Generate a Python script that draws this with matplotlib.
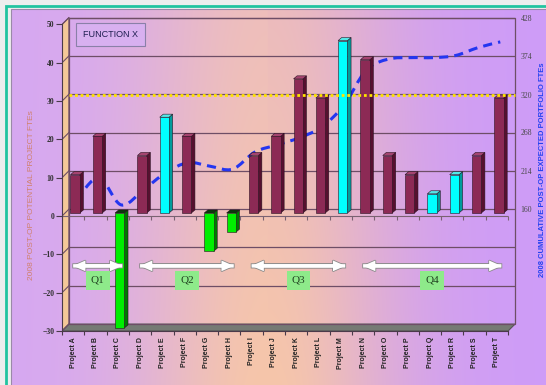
import numpy as np
import matplotlib
matplotlib.use('Agg')
import matplotlib.pyplot as plt
from matplotlib.patches import Rectangle, Polygon, PathPatch, FancyArrow
from matplotlib.path import Path
from matplotlib.colors import to_rgb

projects = ['Project A', 'Project B', 'Project C', 'Project D', 'Project E', 'Project F', 'Project G',
            'Project H', 'Project I', 'Project J', 'Project K', 'Project L', 'Project M', 'Project N',
            'Project O', 'Project P', 'Project Q', 'Project R', 'Project S', 'Project T']
fte = [10, 20, -30, 15, 25, 20, -10, -5, 15, 20, 35, 30, 45, 40, 15, 10, 5, 10, 15, 30]
kind = ['m', 'm', 'g', 'm', 'c', 'm', 'g', 'g', 'm', 'm', 'm', 'm', 'c', 'm', 'm', 'm', 'c', 'c', 'm', 'm']
cumulative = [173, 204, 166, 187, 211, 225, 220, 216, 240, 250, 260, 275, 306, 355, 370, 372, 372, 375, 386, 394]
target = 320
right_ticks = [160, 214, 268, 320, 374, 428]
quarters = ['Q1', 'Q2', 'Q3', 'Q4']
quarter_span = [(0, 2), (3, 7), (8, 12), (13, 19)]

# colours: front, side, top
palette = {'m': ('#8C2A55', '#56102F', '#A54470'),
           'c': ('#00FFFF', '#009C9C', '#55E8E8'),
           'g': ('#00EE00', '#007A00', '#0A3A0A')}

W, H = 546, 385
DX, DY = 0.31, 1.8      # depth of the 3d walls
BDX, BDY = 0.16, 0.8    # depth of a bar
SX, SY = 0.1, 0.8       # bars sit half way back

def to_right(v):
    return 160 + (v - DY) * 5.36

def to_left(r):
    return DY + (r - 160) / 5.36

fig = plt.figure(figsize=(W / 100, H / 100), dpi=100, facecolor='#EEEEEE')

# gradient background
bg = fig.add_axes([11 / W, 0, 1 - 11 / W, 1 - 9 / H])
purple_l = np.array(to_rgb('#D6A8F2'))
peach = np.array(to_rgb('#F6C6AA'))
purple_r = np.array(to_rgb('#CE9CF8'))
xs = np.linspace(0, 1, 300)
ys = np.linspace(0, 1, 200)
X, Y = np.meshgrid(xs, ys)
wx = np.exp(-((X - 0.48) / 0.24) ** 2) * (0.75 + 0.25 * Y)
side = np.where(X[..., None] < 0.48, purple_l, purple_r)
img = side * (1 - wx[..., None]) + peach * wx[..., None]
bg.imshow(img, aspect='auto', extent=(0, 1, 0, 1))
bg.axis('off')
fig.patches.append(Rectangle((6 / W, -0.1), 1.2, 1.1 - 6 / H, fill=False, edgecolor='#22C4A0',
                             lw=2, transform=fig.transFigure))
fig.patches.append(Rectangle((11 / W, -0.1), 1.2, 1.1 - 9.5 / H, fill=False, edgecolor='#9A8AA8',
                             lw=0.8, transform=fig.transFigure))

ax = fig.add_axes([62 / W, (H - 331) / H, (517 - 62) / W, (331 - 13) / H])
ax.patch.set_alpha(0)
ax.set_xlim(0, 20.4)
ax.set_ylim(-30, 53)
centers = np.arange(len(projects)) + 0.5

# walls and floor
ax.add_patch(Polygon([(0, -30), (DX, -30 + DY), (DX, 50 + DY), (0, 50)], closed=True,
                     facecolor='#F4C898', edgecolor='#6E4E66', lw=0.8, zorder=1))
ax.add_patch(Polygon([(0, -30), (20, -30), (20 + DX, -30 + DY), (DX, -30 + DY)], closed=True,
                     facecolor='#767A74', edgecolor='#555555', lw=0.8, zorder=1))
ax.add_patch(Rectangle((DX, -30 + DY), 20, 80, fill=False, edgecolor='#6E4E66', lw=0.9, zorder=1))
grid_vals = list(range(-20, 51, 10))
ax.hlines([v + DY for v in grid_vals], DX, 20 + DX, color='#6E4E66', lw=0.9, zorder=1)
for v in range(-30, 51, 10):
    ax.plot([0, DX], [v, v + DY], color='#6E4E66', lw=0.8, zorder=1)

# zero line with category ticks
ax.hlines(0, 0, 20, color='#7A6272', lw=0.8, zorder=1)
ax.vlines(np.arange(21), -1.0, 0, color='#7A6272', lw=0.8, zorder=1)

# cumulative dashed line (smoothed), behind the bars
lx = centers + 0.15
ly = [to_left(r) for r in cumulative]
verts = [(lx[0], ly[0])]
codes = [Path.MOVETO]
n = len(lx)
for i in range(n - 1):
    p0 = max(i - 1, 0)
    p3 = min(i + 2, n - 1)
    c1 = (lx[i] + (lx[i + 1] - lx[p0]) / 6, ly[i] + (ly[i + 1] - ly[p0]) / 6)
    c2 = (lx[i + 1] - (lx[p3] - lx[i]) / 6, ly[i + 1] - (ly[p3] - ly[i]) / 6)
    verts += [c1, c2, (lx[i + 1], ly[i + 1])]
    codes += [Path.CURVE4] * 3
ax.add_patch(PathPatch(Path(verts, codes), fill=False, edgecolor='#2436F0', lw=2.2,
                       linestyle=(0, (3, 2)), zorder=2))

# 3d bars
bw = 0.42
for c, v, k in zip(centers, fte, kind):
    front, sidec, topc = palette[k]
    x0 = c - 0.22 + SX
    y0 = min(0, v) + SY
    y1 = max(0, v) + SY
    ax.add_patch(Polygon([(x0 + bw, y0), (x0 + bw + BDX, y0 + BDY), (x0 + bw + BDX, y1 + BDY), (x0 + bw, y1)],
                         closed=True, facecolor=sidec, edgecolor='#2A1020', lw=0.4, zorder=3))
    ax.add_patch(Polygon([(x0, y1), (x0 + BDX, y1 + BDY), (x0 + bw + BDX, y1 + BDY), (x0 + bw, y1)],
                         closed=True, facecolor=topc, edgecolor='#2A1020', lw=0.4, zorder=3))
    ax.add_patch(Rectangle((x0, y0), bw, y1 - y0, facecolor=front, edgecolor='#2A1020', lw=0.4, zorder=3))

# target line
ax.hlines(to_left(target), DX, 20 + DX, color='#FFE400', lw=2, linestyle=(0, (1, 1)), zorder=4)

# quarter arrows
for q, (a, b) in zip(quarters, quarter_span):
    xa = centers[a]
    xb = centers[b] + 0.2
    L = xb - xa
    for ec, z in (('#8A8A8A', 5), ('none', 5.1)):
        for x_start, dx in ((xa, L), (xb, -L)):
            ax.add_patch(FancyArrow(x_start, -13, dx, 0, width=0.9, head_width=2.8, head_length=0.55,
                                    length_includes_head=True, facecolor='white', edgecolor=ec,
                                    lw=1.2, zorder=z))
    ax.text((xa + xb) / 2, -16.8, q, ha='center', va='center', fontsize=8, family='Liberation Serif',
            color='#204020', zorder=6,
            bbox=dict(boxstyle='square,pad=0.45', facecolor='#8EEA8A', edgecolor='none'))

# title box
ax.text(0.95, 47.4, 'FUNCTION X', fontsize=6.5, family='Liberation Sans', color='#1E1E50', va='center',
        ha='left', zorder=6,
        bbox=dict(boxstyle='square,pad=0.75', facecolor='#D8B0F0', edgecolor='#8A80A8', lw=0.8))

# axes styling
for s in ('top', 'right'):
    ax.spines[s].set_visible(False)
ax.spines['left'].set_bounds(-30, 50)
ax.spines['left'].set_color('#4A3A4A')
ax.spines['bottom'].set_bounds(0, 20)
ax.spines['bottom'].set_color('#4A3A4A')
ax.set_yticks(range(-30, 51, 10))
ax.tick_params(axis='y', length=4, width=0.8, color='#4A3A4A', pad=1.5)
for t in ax.get_yticklabels():
    t.set_fontsize(5.5)
    t.set_family('Liberation Serif')
    t.set_fontweight('bold')
    t.set_color('#303030')
ax.set_xticks(centers)
ax.set_xticklabels(projects, rotation=90, fontsize=5, fontweight='bold', family='Liberation Sans',
                   color='#222222')
ax.set_xticks(np.arange(21), minor=True)
ax.tick_params(axis='x', which='major', length=0, pad=4.5)
ax.tick_params(axis='x', which='minor', length=3, width=0.8, color='#4A3A4A')

sec = ax.secondary_yaxis('right', functions=(to_right, to_left))
sec.set_yticks(right_ticks)
sec.spines['right'].set_visible(False)
sec.tick_params(length=0, pad=2.5)
for t in sec.get_yticklabels():
    t.set_fontsize(5.5)
    t.set_family('Liberation Serif')
    t.set_color('#484848')

fig.text(32 / W, 1 - 195 / H, '2008 POST-OP POTENTIAL PROJECT FTEs', rotation=90, fontsize=6,
         family='Liberation Sans', color='#D0806C', ha='center', va='center')
fig.text(543 / W, 1 - 170 / H, '2008 CUMULATIVE POST-OP EXPECTED PORTFOLIO FTEs', rotation=90, fontsize=5.5,
         family='Liberation Sans', fontweight='bold', color='#2442F0', ha='center', va='center')

plt.savefig('out.png', dpi=100, facecolor=fig.get_facecolor())
plt.close()
